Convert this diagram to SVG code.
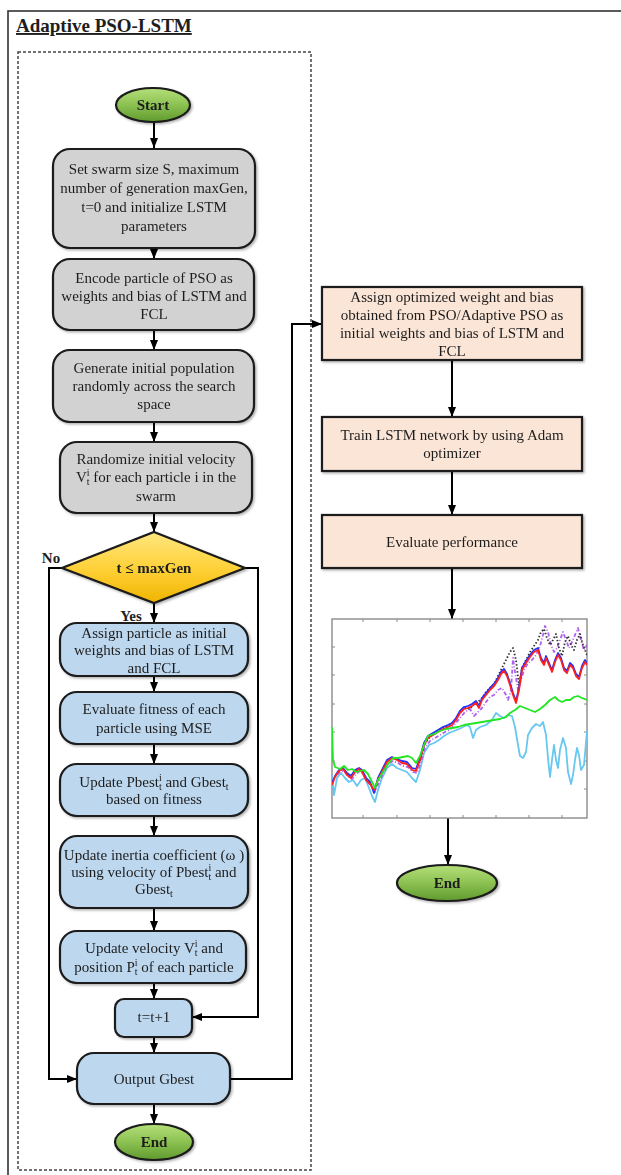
<svg xmlns="http://www.w3.org/2000/svg" width="621" height="1175" viewBox="0 0 621 1175">
<defs>
<style>
text{font-family:"Liberation Serif","Times New Roman",serif;font-size:15px;fill:#1e1e1e;text-anchor:middle}
.b{font-weight:bold}
.sb{font-size:10px}
.gray{fill:#d2d2d2;stroke:#1a1a1a;stroke-width:2.2}
.blue{fill:#bdd7ee;stroke:#1a1a1a;stroke-width:2.2}
.peach{fill:#fbe5d6;stroke:#1a1a1a;stroke-width:2.2}
.term{fill:url(#gGreen);stroke:#1a1a1a;stroke-width:2.2}
.dia{fill:url(#gGold);stroke:#1a1a1a;stroke-width:2.2}
.c{fill:none;stroke:#000;stroke-width:2}
.s{fill:none;stroke-width:1.8;stroke-linejoin:round}
</style>
<linearGradient id="gGreen" x1="0" y1="0" x2="0" y2="1">
<stop offset="0" stop-color="#b5e07a"/><stop offset="0.5" stop-color="#8cc152"/><stop offset="1" stop-color="#5f9a2e"/>
</linearGradient>
<linearGradient id="gGold" x1="0" y1="0" x2="0" y2="1">
<stop offset="0" stop-color="#ffe680"/><stop offset="0.5" stop-color="#ffd23a"/><stop offset="1" stop-color="#f0b400"/>
</linearGradient>
<filter id="sh" x="-10%" y="-10%" width="130%" height="130%">
<feDropShadow dx="1.5" dy="1.5" stdDeviation="1" flood-color="#000" flood-opacity="0.3"/>
</filter>
<marker id="ah" markerWidth="10" markerHeight="8" refX="10" refY="4" orient="auto" markerUnits="userSpaceOnUse">
<path d="M0,0 L10,4 L0,8 Z" fill="#000"/>
</marker>
<clipPath id="cp"><rect x="332" y="619" width="255" height="199"/></clipPath>
</defs>
<rect width="621" height="1175" fill="#fff"/>
<rect x="8" y="11" width="630" height="1180" fill="none" stroke="#333" stroke-width="1.6"/>
<rect x="18" y="52" width="293" height="1118" fill="none" stroke="#444" stroke-width="1.5" stroke-dasharray="3 2"/>
<text x="16" y="32" class="b" style="font-size:19px;text-anchor:start;text-decoration:underline">Adaptive PSO-LSTM</text>

<g id="connectors">
<line class="c" x1="154" y1="122" x2="154" y2="148" marker-end="url(#ah)"/>
<line class="c" x1="154" y1="248" x2="154" y2="259" marker-end="url(#ah)"/>
<line class="c" x1="154" y1="330" x2="154" y2="350" marker-end="url(#ah)"/>
<line class="c" x1="154" y1="422" x2="154" y2="442" marker-end="url(#ah)"/>
<line class="c" x1="154" y1="513" x2="154" y2="532" marker-end="url(#ah)"/>
<line class="c" x1="154" y1="603" x2="154" y2="623" marker-end="url(#ah)"/>
<line class="c" x1="154" y1="676" x2="154" y2="692" marker-end="url(#ah)"/>
<line class="c" x1="154" y1="744" x2="154" y2="764" marker-end="url(#ah)"/>
<line class="c" x1="154" y1="816" x2="154" y2="836" marker-end="url(#ah)"/>
<line class="c" x1="154" y1="908" x2="154" y2="931" marker-end="url(#ah)"/>
<line class="c" x1="154" y1="983" x2="154" y2="999" marker-end="url(#ah)"/>
<line class="c" x1="154" y1="1037" x2="154" y2="1053" marker-end="url(#ah)"/>
<line class="c" x1="154" y1="1104" x2="154" y2="1124" marker-end="url(#ah)"/>
<polyline class="c" points="62,568 49,568 49,1079 77,1079" marker-end="url(#ah)"/>
<polyline class="c" points="245,568 258,568 258,1017 192,1017" marker-end="url(#ah)"/>
<polyline class="c" points="230,1079 292,1079 292,324 322,324" marker-end="url(#ah)"/>
<line class="c" x1="452" y1="360" x2="452" y2="417" marker-end="url(#ah)"/>
<line class="c" x1="452" y1="471" x2="452" y2="515" marker-end="url(#ah)"/>
<line class="c" x1="452" y1="568" x2="452" y2="619" marker-end="url(#ah)"/>
<line class="c" x1="448" y1="818" x2="448" y2="865" marker-end="url(#ah)"/>
</g>

<g id="start" filter="url(#sh)">
<ellipse class="term" cx="153" cy="105" rx="37" ry="17"/>
<text x="153" y="110" class="b">Start</text>
</g>
<g id="init" filter="url(#sh)">
<rect class="gray" x="53" y="149" width="202" height="99" rx="17"/>
<text x="154" y="174">Set swarm size S, maximum</text>
<text x="154" y="193">number of generation maxGen,</text>
<text x="154" y="212">t=0 and initialize LSTM</text>
<text x="154" y="231">parameters</text>
</g>
<g id="encode" filter="url(#sh)">
<rect class="gray" x="53" y="259" width="201" height="71" rx="17"/>
<text x="154" y="283">Encode particle of PSO as</text>
<text x="154" y="301">weights and bias of LSTM and</text>
<text x="154" y="319">FCL</text>
</g>
<g id="generate" filter="url(#sh)">
<rect class="gray" x="53" y="350" width="201" height="72" rx="17"/>
<text x="154" y="373">Generate initial population</text>
<text x="154" y="391">randomly across the search</text>
<text x="154" y="409">space</text>
</g>
<g id="randomize" filter="url(#sh)">
<rect class="gray" x="60" y="442" width="192" height="71" rx="17"/>
<text x="156" y="464">Randomize initial velocity</text>
<text x="156" y="482">V<tspan class="sb" dy="3">t</tspan><tspan class="sb" dx="-2.8" dy="-9">i</tspan><tspan dy="6"> for each particle i in the</tspan></text>
<text x="156" y="501">swarm</text>
</g>
<g id="decision" filter="url(#sh)">
<polygon class="dia" points="154,532 245,568 154,603 62,568"/>
<text x="154" y="573" class="b">t ≤ maxGen</text>
</g>
<text x="51" y="563" class="b">No</text>
<text x="131" y="621" class="b">Yes</text>
<g id="assign" filter="url(#sh)">
<rect class="blue" x="60" y="623" width="188" height="53" rx="17"/>
<text x="154" y="638">Assign particle as initial</text>
<text x="154" y="655">weights and bias of LSTM</text>
<text x="154" y="673">and FCL</text>
</g>
<g id="fitness" filter="url(#sh)">
<rect class="blue" x="60" y="692" width="188" height="52" rx="17"/>
<text x="154" y="714">Evaluate fitness of each</text>
<text x="154" y="733">particle using MSE</text>
</g>
<g id="pbest" filter="url(#sh)">
<rect class="blue" x="60" y="764" width="188" height="52" rx="17"/>
<text x="154" y="787">Update Pbest<tspan class="sb" dy="3">t</tspan><tspan class="sb" dx="-2.8" dy="-9">i</tspan><tspan dy="6"> and Gbest</tspan><tspan class="sb" dy="3">t</tspan></text>
<text x="154" y="804">based on fitness</text>
</g>
<g id="inertia" filter="url(#sh)">
<rect class="blue" x="60" y="836" width="188" height="72" rx="17"/>
<text x="154" y="860">Update inertia coefficient (ω )</text>
<text x="154" y="877">using velocity of Pbest<tspan class="sb" dy="3">t</tspan><tspan class="sb" dx="-2.8" dy="-9">i</tspan><tspan dy="6"> and</tspan></text>
<text x="154" y="894">Gbest<tspan class="sb" dy="3">t</tspan></text>
</g>
<g id="velocity" filter="url(#sh)">
<rect class="blue" x="60" y="931" width="186" height="52" rx="17"/>
<text x="154" y="953">Update velocity V<tspan class="sb" dy="3">t</tspan><tspan class="sb" dx="-2.8" dy="-9">i</tspan><tspan dy="6"> and</tspan></text>
<text x="154" y="972">position P<tspan class="sb" dy="3">t</tspan><tspan class="sb" dx="-2.8" dy="-9">i</tspan><tspan dy="6"> of each particle</tspan></text>
</g>
<g id="increment" filter="url(#sh)">
<rect class="blue" x="115" y="999" width="77" height="38" rx="9"/>
<text x="154" y="1022">t=t+1</text>
</g>
<g id="output" filter="url(#sh)">
<rect class="blue" x="77" y="1053" width="153" height="51" rx="17"/>
<text x="154" y="1084">Output Gbest</text>
</g>
<g id="end1" filter="url(#sh)">
<ellipse class="term" cx="154" cy="1142" rx="39" ry="18"/>
<text x="154" y="1147" class="b">End</text>
</g>

<g id="assign-opt" filter="url(#sh)">
<rect class="peach" x="322" y="287" width="260" height="73"/>
<text x="452" y="302">Assign optimized weight and bias</text>
<text x="452" y="320">obtained from PSO/Adaptive PSO as</text>
<text x="452" y="338">initial weights and bias of LSTM and</text>
<text x="452" y="356">FCL</text>
</g>
<g id="train" filter="url(#sh)">
<rect class="peach" x="322" y="417" width="260" height="54"/>
<text x="452" y="440">Train LSTM network by using Adam</text>
<text x="452" y="458">optimizer</text>
</g>
<g id="evaluate" filter="url(#sh)">
<rect class="peach" x="322" y="515" width="260" height="53"/>
<text x="452" y="547">Evaluate performance</text>
</g>

<g id="chart">
<rect x="332" y="619" width="255" height="199" fill="#fff" stroke="#8a8a8a" stroke-width="1.4"/>
<g stroke="#8a8a8a" stroke-width="1">
<path d="M363,619v3M397,619v3M430,619v3M463,619v3M496,619v3M529,619v3M562,619v3"/>
<path d="M363,818v-3M397,818v-3M430,818v-3M463,818v-3M496,818v-3M529,818v-3M562,818v-3"/>
<path d="M332,647h3M332,675h3M332,704h3M332,732h3M332,761h3M332,789h3"/>
<path d="M587,647h-3M587,675h-3M587,704h-3M587,732h-3M587,761h-3M587,789h-3"/>
</g>
<g clip-path="url(#cp)">
<polyline class="s" stroke="#66c8f0" points="332,775 334,795 337,778 341,773 345,778 349,782 353,780 357,786 361,780 365,778 369,788 372,796 375,802 378,790 382,778 387,768 392,764 397,768 402,770 407,772 412,778 416,782 420,770 424,753 429,745 434,743 439,740 444,736 449,733 454,731 459,729 463,727 467,725 470,727 473,738 476,730 480,727 486,725 492,720 496,713 500,716 504,718 508,715 512,716 515,727 518,745 520,756 523,758 526,752 528,735 532,728 536,724 540,726 543,722 546,735 548,758 550,777 552,760 554,745 556,760 558,768 560,750 563,738 566,748 568,772 571,784 573,775 575,760 577,748 579,755 581,770 584,765 587,731"/>
<polyline class="s" stroke="#b060f0" stroke-dasharray="4 2 1 2" points="332,782 336,776 340,772 344,771 348,776 352,779 356,774 360,771 364,774 368,782 372,786 375,792 379,782 384,772 388,764 393,761 398,763 403,766 408,767 413,772 417,773 421,762 425,748 430,741 435,738 440,735 445,732 450,730 455,724 460,718 465,712 470,709 474,716 478,712 482,708 486,702 490,697 494,695 498,690 502,688 506,695 508,700 511,690 513,658 515,672 518,690 521,680 524,670 528,663 532,660 536,655 540,646 543,635 545,626 548,632 551,645 554,652 557,648 560,640 563,632 566,640 569,648 572,642 575,635 578,628 581,640 584,650 587,645"/>
<polyline class="s" stroke="#333" stroke-dasharray="1.5 2" points="420,761 424,746 428,739 433,734 438,731 443,728 448,726 452,723 456,719 460,712 464,707 470,709 474,704 478,702 482,698 486,692 490,688 494,684 498,676 502,668 506,660 510,652 513,648 516,660 519,685 522,668 526,660 530,652 534,646 538,640 541,632 544,629 547,638 550,645 553,640 556,634 559,648 562,656 565,642 568,636 571,645 574,650 577,640 580,634 583,645 587,655"/>
<polyline class="s" stroke="#2030ff" points="332,783 335,776 339,770 343,768 347,773 351,776 355,770 359,768 362,770 366,778 370,782 374,793 378,778 383,768 387,760 392,757 397,759 402,761 407,762 412,768 416,769 420,758 424,743 428,736 433,733 438,730 443,727 448,725 452,723 456,718 460,711 464,707 468,706 472,704 476,701 479,706 482,698 486,693 490,688 494,684 498,678 501,672 504,669 507,674 510,683 513,693 516,701 519,688 522,668 526,661 530,655 534,650 538,648 541,658 544,663 546,656 549,663 552,670 555,660 558,653 561,658 564,668 567,671 570,663 573,666 576,674 579,677 582,666 585,660 587,663"/>
<polyline class="s" stroke="#ff2020" points="332,785 335,777 339,771 343,769 347,775 351,778 355,772 359,769 362,772 366,780 370,784 374,790 378,780 383,770 387,762 392,758 397,760 402,763 407,764 412,770 416,771 420,760 424,745 428,738 433,735 438,732 443,729 448,727 452,725 456,720 460,713 464,709 468,708 472,706 476,703 479,708 482,700 486,695 490,690 494,686 498,680 501,674 504,671 507,676 510,685 513,695 516,703 519,690 522,670 526,663 530,657 534,652 538,650 541,660 544,665 546,658 549,665 552,672 555,662 558,655 561,660 564,670 567,673 570,665 573,668 576,676 579,679 582,668 585,662 587,665"/>
<polyline class="s" stroke="#22e622" stroke-width="2.2" points="332,727 333,760 335,767 340,769 344,766 348,770 352,769 356,772 360,771 364,770 368,774 372,782 375,788 378,780 383,772 388,764 393,758 398,758 403,757 408,756 412,758 416,763 420,756 424,745 428,736 434,734 440,731 446,729 452,728 458,727 464,725 470,724 476,723 482,722 488,721 494,720 500,719 506,717 510,713 515,710 520,706 525,708 530,710 535,712 540,709 545,705 550,700 555,697 558,700 562,702 566,700 570,700 574,697 578,696 582,698 587,700"/>
</g>
</g>
<g id="end2" filter="url(#sh)">
<ellipse class="term" cx="447" cy="883" rx="50" ry="18"/>
<text x="447" y="888" class="b">End</text>
</g>
</svg>
